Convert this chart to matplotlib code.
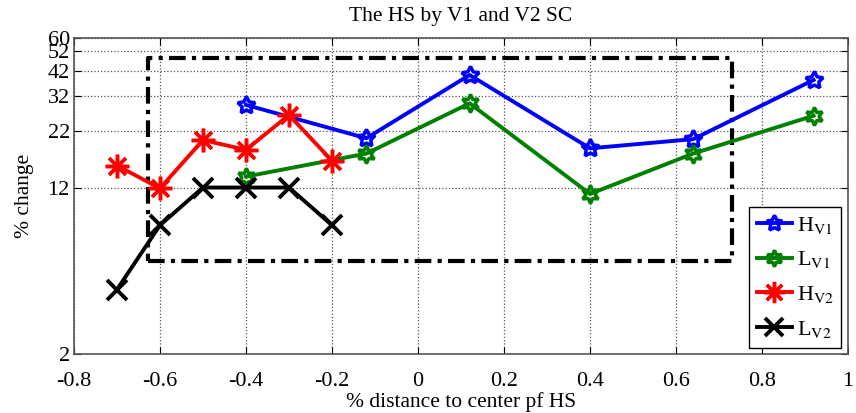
import matplotlib
matplotlib.use('Agg')
import matplotlib.pyplot as plt
from matplotlib.ticker import FixedLocator, FixedFormatter, NullLocator

plt.rcParams['font.family'] = ['Liberation Serif', 'DejaVu Serif']
plt.rcParams['mathtext.fontset'] = 'stix'

# data
x_v1 = [-0.4, -0.12, 0.12, 0.4, 0.64, 0.92]
h_v1 = [29.2, 20.4, 40.3, 18.3, 20.2, 38.2]
l_v1 = [13.5, 17.3, 29.7, 11.2, 17.3, 26.0]

x_v2 = [-0.7, -0.6, -0.5, -0.4, -0.3, -0.2]
h_v2 = [15.2, 11.9, 20.0, 18.0, 26.2, 16.0]
l_v2 = [4.0, 8.0, 12.0, 12.0, 12.0, 8.0]

# dash-dot region
box_x = [-0.627, 0.73]
box_y = [5.45, 48.2]

yticks = [2, 12, 22, 32, 42, 52, 60]
xticks = [-0.8, -0.6, -0.4, -0.2, 0, 0.2, 0.4, 0.6, 0.8, 1]
xticklabels = ['-0.8', '-0.6', '-0.4', '-0.2', '0', '0.2', '0.4', '0.6', '0.8', '1']

fig = plt.figure(figsize=(8.56, 4.13), dpi=100)
ax = fig.add_axes([0.0864, 0.1429, 0.9043, 0.7651])

ax.plot([box_x[0], box_x[1], box_x[1], box_x[0], box_x[0]],
        [box_y[0], box_y[0], box_y[1], box_y[1], box_y[0]],
        color='black', lw=3, linestyle=(0, (4, 1.5, 1, 1.5)), zorder=2)

ax.plot(x_v1, h_v1, color='#0000ff', lw=2.8, marker=(5, 1, 0), ms=13,
        mfc='none', mew=2.5, label=r'H$_{\mathrm{V1}}$', zorder=3)
ax.plot(x_v1, l_v1, color='#008000', lw=2.8, marker=(6, 1, 0), ms=13,
        mfc='none', mew=2.5, label=r'L$_{\mathrm{V1}}$', zorder=3)
ax.plot(x_v2, h_v2, color='#ff0000', lw=2.8, marker=(8, 2, 0), ms=17,
        mew=2.5, label=r'H$_{\mathrm{V2}}$', zorder=3)
ax.plot(x_v2, l_v2, color='black', lw=2.8, marker='x', ms=14,
        mew=2.8, label=r'L$_{\mathrm{V2}}$', zorder=3)

ax.set_yscale('log')
ax.set_xlim(-0.8, 1)
ax.set_ylim(2, 60)
ax.yaxis.set_major_locator(FixedLocator(yticks))
ax.yaxis.set_major_formatter(FixedFormatter([str(t) for t in yticks]))
ax.yaxis.set_minor_locator(NullLocator())
ax.set_xticks(xticks)
ax.set_xticklabels(xticklabels)

ax.grid(True, linestyle=':', color='#555555', lw=0.9)
ax.tick_params(direction='in', top=True, right=True, labelsize=16, length=5)
ax.tick_params(axis='x', pad=13)
ax.tick_params(axis='y', pad=3)
for s in ax.spines.values():
    s.set_color('#555555')
    s.set_linewidth(1.2)

ax.set_title('The HS by V1 and V2 SC', fontsize=15.5, pad=12)
ax.set_xlabel('% distance to center pf HS', fontsize=15.5, labelpad=1)
ax.set_ylabel('% change', fontsize=15.5, labelpad=10)

leg = ax.legend(loc='lower right', fontsize=16, fancybox=False, framealpha=1,
                edgecolor='black', handlelength=1.6, borderpad=0.35,
                labelspacing=0.62, handletextpad=0.2, borderaxespad=0,
                bbox_to_anchor=(0.9915, 0.02), markerscale=0.9)
leg.get_frame().set_linewidth(1.0)

fig.savefig('out.png', dpi=100)
